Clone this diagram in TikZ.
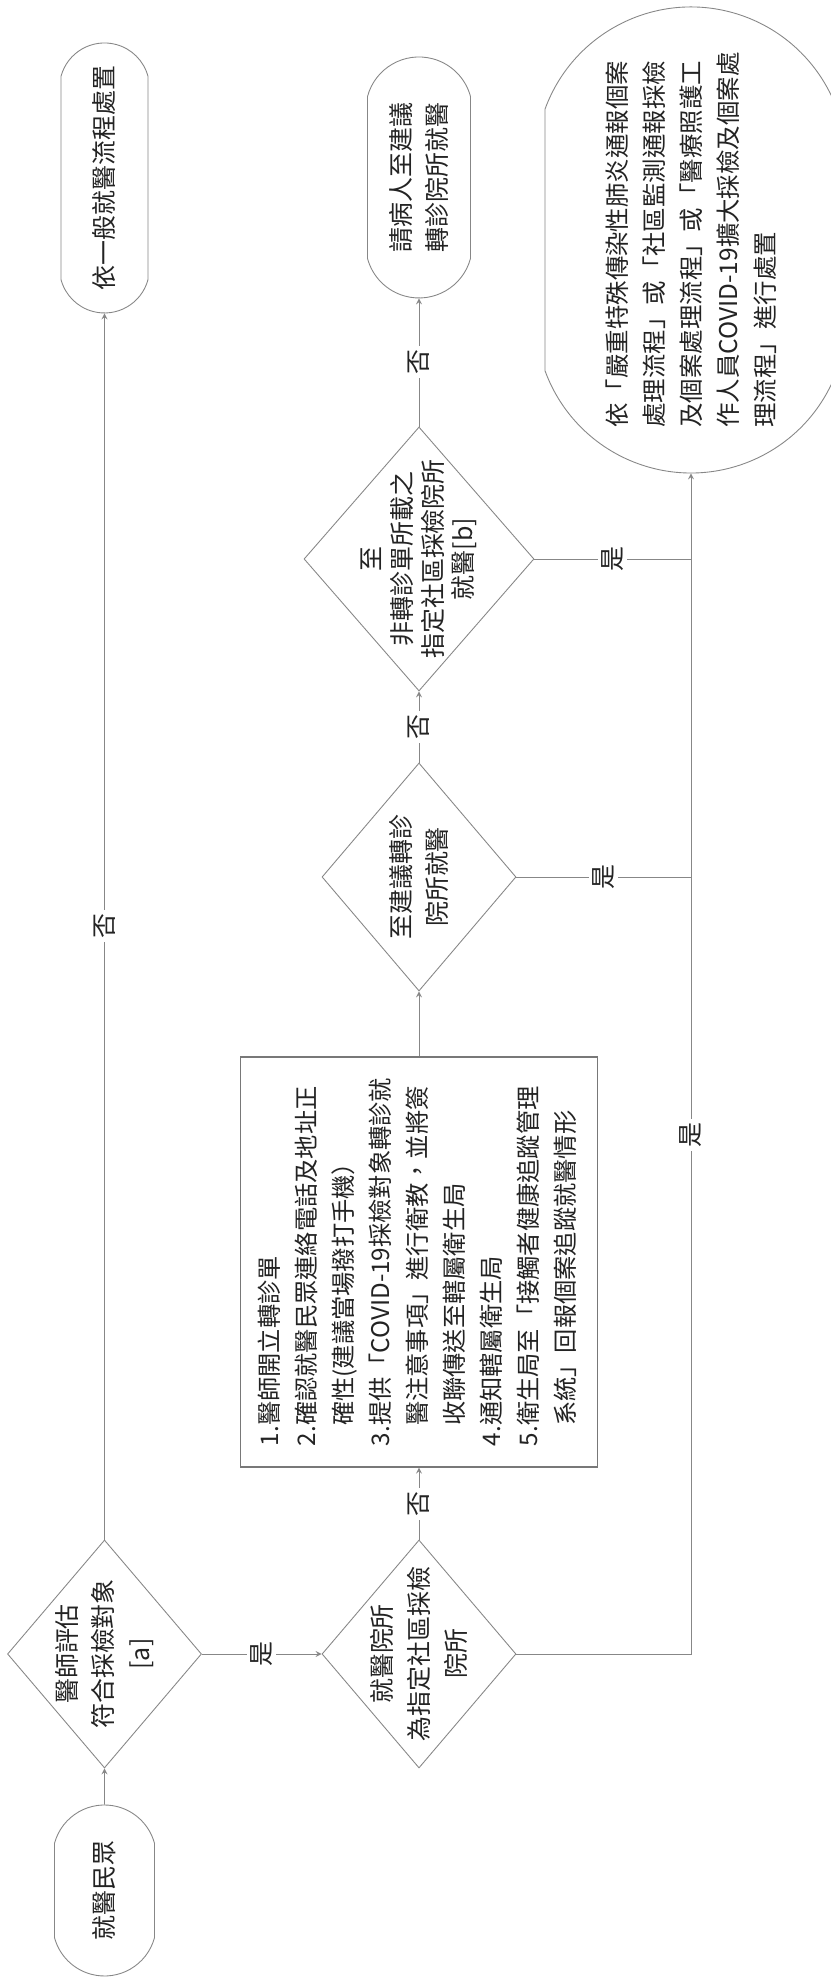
\documentclass[tikz,border=0pt]{standalone}
\usepackage{fontspec}
\setmainfont{Noto Sans CJK TC}
\usetikzlibrary{arrows,
                shapes.geometric, shapes.misc,
                positioning}
\tikzset{
    decision/.style = {diamond, draw=mline, inner sep=0pt,
                       minimum width=45.6mm, minimum height=38.8mm},
    decision2/.style = {decision, minimum width=52.8mm, minimum height=46mm},
        line/.style = {draw=mline, -stealth},
        link/.style = {draw=mline},
        block/.style = {rectangle, draw=mbox, line width=.7pt, inner sep=0pt,
                       minimum width=82mm, minimum height=71.4mm,
                       font=\fontsize{13.8}{21}\selectfont},
        terminal/.style = {rounded rectangle, rounded rectangle arc length=150,
                       draw=mline, inner sep=0pt, align=center},
        answer/.style = {fill=white, inner sep=2pt}
        }
\definecolor{mline}{RGB}{135,135,135}
\definecolor{mbox}{RGB}{120,120,120}
\definecolor{mtext}{RGB}{35,35,35}

\begin{document}
\begin{tikzpicture}[x=1mm, y=1mm, rotate=90, transform shape,
                    line width=.5pt, text=mtext,
                    font=\fontsize{14.2}{21}\selectfont]
\fill [white] (0,0) rectangle (395.4,-166);
\useasboundingbox (0,0) rectangle (395.4,-166);
% first row
\node [terminal, minimum width=34.2mm, minimum height=20mm] (start) at (17.3,-20.9) {就醫民眾};
\node [decision, label={[align=center]center:{醫師評估\\符合採檢對象\\{[a]}}}] (eval) at (64.6,-20.9) {};
\node [terminal, minimum width=54mm, minimum height=17.4mm] (general) at (359.8,-20.9) {依一般就醫流程處置};
% second row
\node [decision, label={[align=center]center:{就醫院所\\為指定社區採檢\\院所}}] (site) at (64.6,-83.8) {};
\node [block] (refer) at (143,-83.8)
      {\begin{tabular}{@{}l@{}l@{}}
       1. & 醫師開立轉診單\\
       2. & 確認就醫民眾連絡電話及地址正\\
          & 確性(建議當場撥打手機）\\
       3. & 提供「COVID-19採檢對象轉診就\\
          & 醫注意事項」進行衛教，並將簽\\
          & 收聯傳送至轄屬衛生局\\
       4. & 通知轄屬衛生局\\
       5. & 衛生局至「接觸者健康追蹤管理\\
          & 系統」回報個案追蹤就醫情形
       \end{tabular}};
\node [decision, label={[align=center]center:{至建議轉診\\院所就醫}}] (goref) at (220,-83.8) {};
\node [decision2, label={[align=center, font=\fontsize{14.2}{17.5}\selectfont]center:{至\\非轉診單所載之\\指定社區採檢院所\\就醫[b]}}] (other) at (283.6,-83.8) {};
\node [terminal, minimum width=48.2mm, minimum height=20.6mm] (advise) at (359.9,-83.8) {請病人至建議\\轉診院所就醫};
% third row
\node [terminal, rounded rectangle arc length=140, minimum width=93.2mm, minimum height=58.4mm,
       label={[align=left, font=\fontsize{13.9}{21}\selectfont]center:{依「嚴重特殊傳染性肺炎通報個案\\處理流程」或「社區監測通報採檢\\及個案處理流程」或「醫療照護工\\作人員COVID-19擴大採檢及個案處\\理流程」進行處置}}] (report) at (347.4,-138.2) {};
% connectors
\draw [line] (start) -- (eval);
\draw [line] (eval) -- node[answer] {否} (general);
\draw [line] (eval) -- node[answer] {是} (site);
\draw [line] (site) -- node[answer] {否} (refer);
\draw [line] (refer) -- (goref);
\draw [line] (goref) -- node[answer] {否} (other);
\draw [line] (other) -- node[answer] {否} (advise);
\draw [line] (site.south) |- node[answer, pos=.72] {是} (report.west);
\draw [link] (goref.south) -- node[answer] {是} (goref.south |- report.west);
\draw [link] (other.south) -- node[answer] {是} (other.south |- report.west);
\end{tikzpicture}
\end{document}
